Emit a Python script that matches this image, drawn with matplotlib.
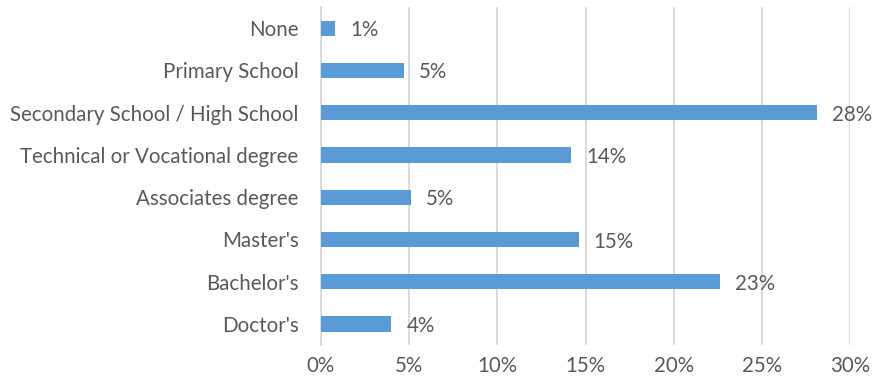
import matplotlib.pyplot as plt
from matplotlib.ticker import MultipleLocator, FuncFormatter

# Highest level of education (share of respondents, %)
levels = [
    "None",
    "Primary School",
    "Secondary School / High School",
    "Technical or Vocational degree",
    "Associates degree",
    "Master's",
    "Bachelor's",
    "Doctor's",
]
shares = [0.8, 4.7, 28.1, 14.2, 5.1, 14.6, 22.6, 4.0]

plt.rcParams['font.family'] = ['Lato', 'DejaVu Sans']
text_col = '#595959'
fs = 14.8

fig = plt.figure(figsize=(8.74, 3.89), dpi=100)
ax = fig.add_axes([0.367, 0.113, 0.606, 0.869])

ypos = list(range(len(levels)))
ax.barh(ypos, shares, height=0.36, color='#5B9BD5', zorder=3)

for y, v in zip(ypos, shares):
    ax.text(v + 0.85, y + 0.05, f"{v:.0f}%", va='center', ha='left',
            fontsize=fs, color=text_col)

ax.set_yticks(ypos)
ax.set_yticklabels(levels)
ax.set_ylim(len(levels) - 0.5, -0.5)
ax.set_xlim(0, 30)
ax.xaxis.set_major_locator(MultipleLocator(5))
ax.xaxis.set_major_formatter(FuncFormatter(lambda x, _: f"{x:.0f}%"))

ax.grid(axis='x', color='#D9D9D9', linewidth=1.3, zorder=0)
for s in ['top', 'right', 'bottom']:
    ax.spines[s].set_visible(False)
ax.spines['left'].set_color('#D9D9D9')
ax.spines['left'].set_linewidth(1.3)
ax.tick_params(axis='both', length=0, labelsize=fs, labelcolor=text_col)
ax.tick_params(axis='y', pad=16)
ax.tick_params(axis='x', pad=8)

plt.savefig("out.png", dpi=100)
